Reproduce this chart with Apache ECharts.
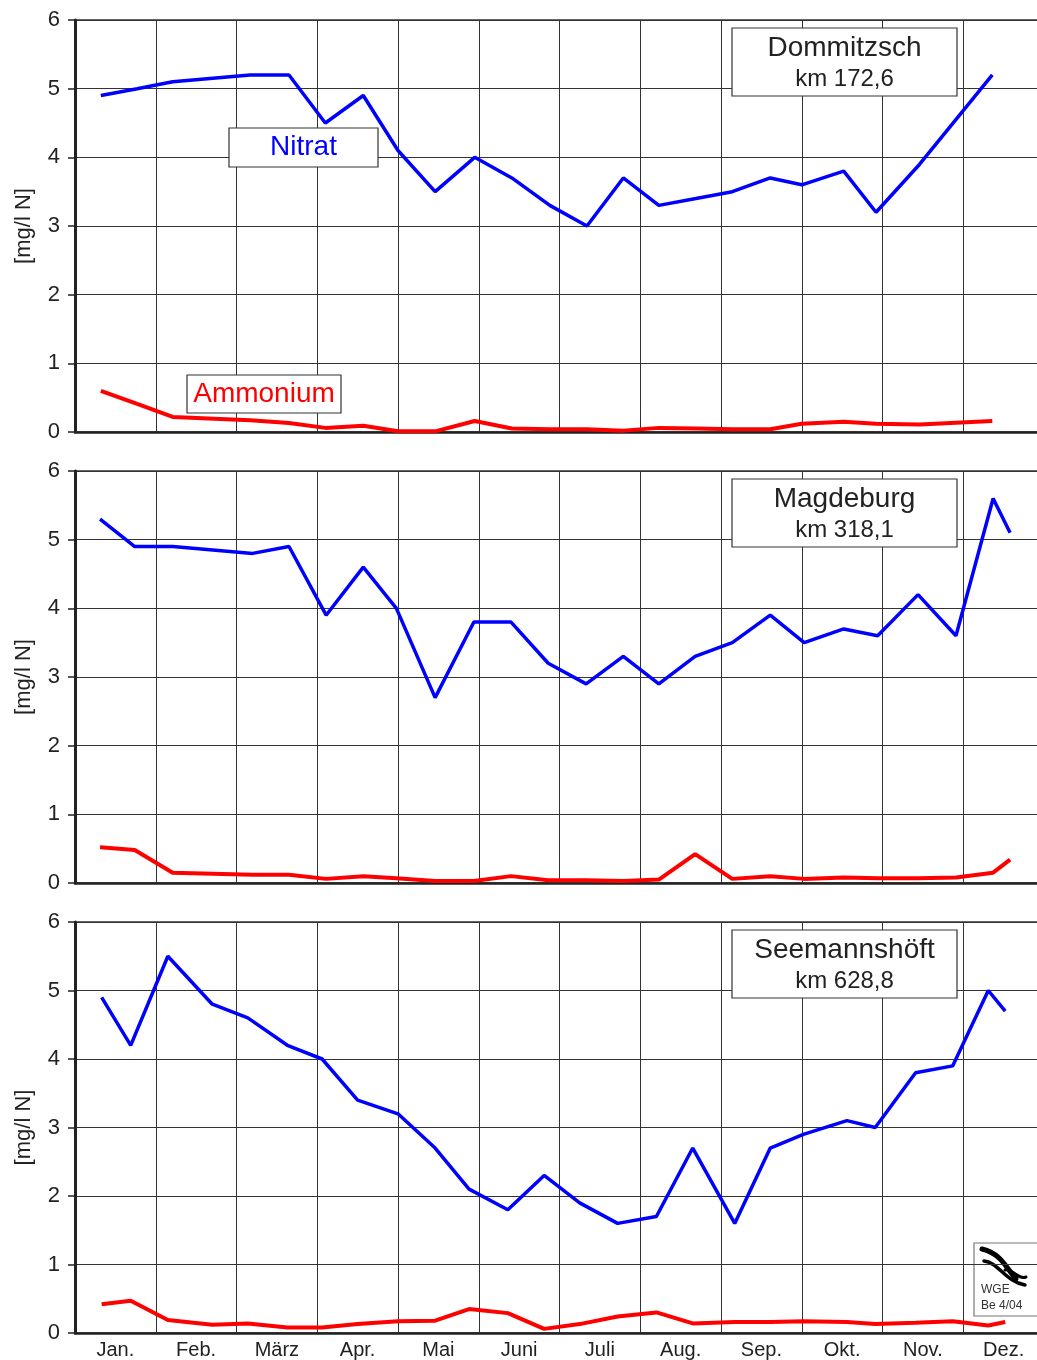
<!DOCTYPE html>
<html>
<head>
<meta charset="utf-8">
<script src="https://cdn.jsdelivr.net/npm/echarts@6/dist/echarts.min.js"></script>
<style>
  html, body { margin: 0; padding: 0; background: #fff; overflow: hidden; }
  /* the last month runs a few pixels past the right edge of the page */
  #chart { width: 1050px; height: 1360px; }
</style>
</head>
<body>
<div id="chart"></div>
<script>
// Month labels along the shared time axis (positions in months from 1 January)
const months = ['Jan.', 'Feb.', 'März', 'Apr.', 'Mai', 'Juni', 'Juli', 'Aug.', 'Sep.', 'Okt.', 'Nov.', 'Dez.'];
const yTicks = [0, 1, 2, 3, 4, 5, 6];

// Station titles
const stations = [
  { name: 'Dommitzsch', km: 'km 172,6' },
  { name: 'Magdeburg', km: 'km 318,1' },
  { name: 'Seemannshöft', km: 'km 628,8' }
];

// Dommitzsch: sampling times (months) and concentrations [mg/l N]
const dommTime = [0.32, 0.77, 1.21, 2.17, 2.65, 3.10, 3.57, 4.00, 4.46, 4.95, 5.41, 5.88, 6.34, 6.79, 7.23, 7.69, 8.14, 8.61, 9.00, 9.52, 9.92, 10.46, 11.36];
const dommNitrat = [4.9, 5.0, 5.1, 5.2, 5.2, 4.5, 4.9, 4.1, 3.5, 4.0, 3.7, 3.3, 3.0, 3.7, 3.3, 3.4, 3.5, 3.7, 3.6, 3.8, 3.2, 3.9, 5.2];
const dommAmmonium = [0.60, 0.41, 0.22, 0.17, 0.13, 0.06, 0.09, 0.01, 0.01, 0.16, 0.05, 0.04, 0.04, 0.02, 0.06, 0.05, 0.04, 0.04, 0.12, 0.15, 0.12, 0.11, 0.16];

// Magdeburg
const magdTime = [0.31, 0.74, 1.21, 2.20, 2.65, 3.11, 3.57, 3.98, 4.46, 4.94, 5.40, 5.86, 6.33, 6.79, 7.23, 7.68, 8.14, 8.61, 9.03, 9.52, 9.94, 10.44, 10.91, 11.37, 11.58];
const magdNitrat = [5.3, 4.9, 4.9, 4.8, 4.9, 3.9, 4.6, 4.0, 2.7, 3.8, 3.8, 3.2, 2.9, 3.3, 2.9, 3.3, 3.5, 3.9, 3.5, 3.7, 3.6, 4.2, 3.6, 5.6, 5.1];
const magdAmmonium = [0.52, 0.48, 0.15, 0.12, 0.12, 0.06, 0.10, 0.07, 0.03, 0.03, 0.10, 0.04, 0.04, 0.03, 0.05, 0.42, 0.06, 0.10, 0.06, 0.08, 0.07, 0.07, 0.08, 0.15, 0.34];

// Seemannshöft
const seemTime = [0.33, 0.69, 1.15, 1.70, 2.14, 2.63, 3.06, 3.50, 4.00, 4.46, 4.88, 5.36, 5.81, 6.25, 6.72, 7.20, 7.65, 8.17, 8.61, 9.02, 9.56, 9.91, 10.41, 10.87, 11.31, 11.52];
const seemNitrat = [4.9, 4.2, 5.5, 4.8, 4.6, 4.2, 4.0, 3.4, 3.2, 2.7, 2.1, 1.8, 2.3, 1.9, 1.6, 1.7, 2.7, 1.6, 2.7, 2.9, 3.1, 3.0, 3.8, 3.9, 5.0, 4.7];
const seemAmmonium = [0.42, 0.47, 0.19, 0.12, 0.14, 0.08, 0.08, 0.13, 0.17, 0.18, 0.35, 0.29, 0.06, 0.13, 0.24, 0.30, 0.14, 0.16, 0.16, 0.17, 0.16, 0.13, 0.15, 0.17, 0.11, 0.16];

const panels = [
  { time: dommTime, nitrat: dommNitrat, ammonium: dommAmmonium },
  { time: magdTime, nitrat: magdNitrat, ammonium: magdAmmonium },
  { time: seemTime, nitrat: seemNitrat, ammonium: seemAmmonium }
];

const FONT = '"Liberation Sans", Arial, Helvetica, sans-serif';
const INK = '#222';
const NITRAT_COLOR = '#0000ff';
const AMMONIUM_COLOR = '#ff0000';

const gridTops = [20, 471, 922];
const gridHeight = 412;
const gridLeft = 75;
const gridWidth = 969;

const pair = (t, v) => t.map((x, i) => [x, v[i]]);

const grids = gridTops.map(top => ({
  left: gridLeft, top: top, width: gridWidth, height: gridHeight,
  show: true, borderColor: '#333', borderWidth: 1.5, backgroundColor: 'transparent'
}));

const xAxes = gridTops.map((_, i) => ({
  type: 'value', gridIndex: i, min: 0, max: 12, interval: 1,
  axisLine: { show: true, onZero: false, lineStyle: { color: INK, width: 2.5 } },
  axisTick: { show: false },
  axisLabel: { show: false },
  splitLine: { show: true, lineStyle: { color: '#333', width: 1 } }
}));
// month names centred between the vertical grid lines of the bottom panel
xAxes.push({
  type: 'category', gridIndex: 2, data: months, boundaryGap: true, position: 'bottom',
  axisLine: { show: false }, axisTick: { show: false }, splitLine: { show: false },
  axisLabel: { show: true, fontFamily: FONT, fontSize: 20, color: INK, margin: 7 }
});

const yAxes = gridTops.map((_, i) => ({
  type: 'value', gridIndex: i, min: yTicks[0], max: yTicks[yTicks.length - 1], interval: 1,
  name: '[mg/l N]', nameLocation: 'middle', nameGap: 40, nameRotate: 90,
  nameTextStyle: { fontFamily: FONT, fontSize: 22, color: INK },
  axisLine: { show: true, lineStyle: { color: INK, width: 3 } },
  axisTick: { show: true, length: 7, lineStyle: { color: INK, width: 1.5 } },
  axisLabel: { fontFamily: FONT, fontSize: 22, color: INK, margin: 15 },
  splitLine: { show: true, lineStyle: { color: '#333', width: 1 } }
}));

const series = [];
panels.forEach((p, i) => {
  series.push({
    type: 'line', name: 'Nitrat', xAxisIndex: i, yAxisIndex: i,
    data: pair(p.time, p.nitrat), symbol: 'none', z: 5,
    lineStyle: { color: NITRAT_COLOR, width: 3.5 }
  });
  series.push({
    type: 'line', name: 'Ammonium', xAxisIndex: i, yAxisIndex: i,
    data: pair(p.time, p.ammonium), symbol: 'none', z: 5,
    lineStyle: { color: AMMONIUM_COLOR, width: 4 }
  });
});

// framed text label
function labelBox(x, y, w, h, lines) {
  const children = [{
    type: 'rect', shape: { x: x, y: y, width: w, height: h },
    style: { fill: '#fff', stroke: '#333', lineWidth: 1.2 }, z: 20
  }];
  lines.forEach(l => children.push({
    type: 'text', x: x + w / 2, y: y + l.dy, z: 21,
    style: { text: l.text, fill: l.color || INK, font: l.size + 'px ' + FONT, align: 'center', verticalAlign: 'middle' }
  }));
  return { type: 'group', children: children };
}

const graphics = [];
stations.forEach((s, i) => {
  graphics.push(labelBox(732, gridTops[i] + 8, 225, 68, [
    { text: s.name, size: 28, dy: 20 },
    { text: s.km, size: 24, dy: 51 }
  ]));
});
graphics.push(labelBox(229, 128, 149, 39, [{ text: 'Nitrat', size: 28, dy: 19, color: NITRAT_COLOR }]));
graphics.push(labelBox(187, 375, 154, 38, [{ text: 'Ammonium', size: 28, dy: 19, color: AMMONIUM_COLOR }]));

// WGE emblem in the lower right corner
graphics.push({
  type: 'group', z: 30,
  children: [
    { type: 'rect', shape: { x: 974, y: 1243, width: 70, height: 73 }, style: { fill: '#fff', stroke: '#777', lineWidth: 1.2 } },
    { type: 'bezierCurve', shape: { x1: 982, y1: 1249, x2: 1016, y2: 1279, cpx1: 1002, cpy1: 1254, cpx2: 1006, cpy2: 1268 },
      style: { stroke: '#000', lineWidth: 5, fill: null, lineCap: 'round' } },
    { type: 'bezierCurve', shape: { x1: 984, y1: 1261, x2: 1025, y2: 1285, cpx1: 998, cpy1: 1262, cpx2: 1006, cpy2: 1282 },
      style: { stroke: '#000', lineWidth: 3.5, fill: null, lineCap: 'round' } },
    { type: 'bezierCurve', shape: { x1: 1005, y1: 1270, x2: 1026, y2: 1277, cpx1: 1012, cpy1: 1268, cpx2: 1018, cpy2: 1280 },
      style: { stroke: '#000', lineWidth: 3, fill: null, lineCap: 'round' } },
    { type: 'text', x: 981, y: 1290, style: { text: 'WGE', fill: '#333', font: '12px ' + FONT, verticalAlign: 'middle' } },
    { type: 'text', x: 981, y: 1306, style: { text: 'Be 4/04', fill: '#333', font: '12px ' + FONT, verticalAlign: 'middle' } }
  ]
});

const chart = echarts.init(document.getElementById('chart'), null, { renderer: 'canvas' });
chart.setOption({
  animation: false,
  backgroundColor: '#fff',
  grid: grids,
  xAxis: xAxes,
  yAxis: yAxes,
  series: series,
  graphic: graphics
});
</script>
</body>
</html>
